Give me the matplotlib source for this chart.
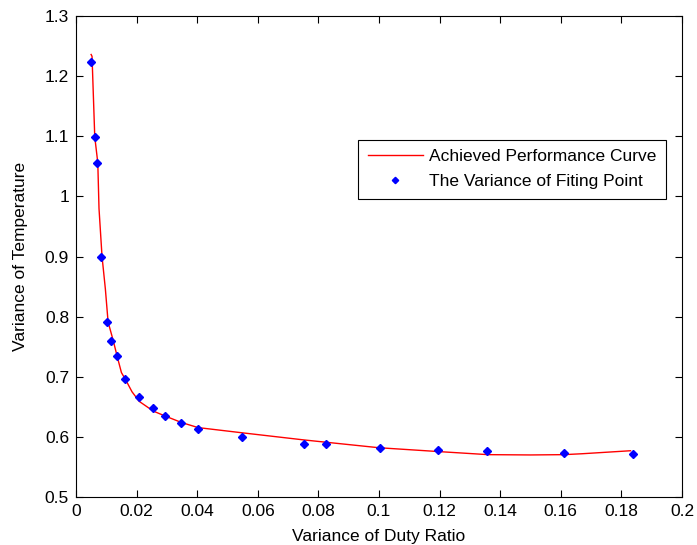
import numpy as np
import matplotlib.pyplot as pl
import matplotlib
matplotlib.rcParams.update({'font.size': 12.5, 'font.family': 'Liberation Sans'})

# fitted curve
curve_x = [0.0050, 0.0053, 0.0062, 0.0072, 0.0076, 0.0086, 0.0097, 0.0106, 0.0122, 0.0138,
           0.0150, 0.0165, 0.0185, 0.0209, 0.0255, 0.0293, 0.0348, 0.0403, 0.0549, 0.0752,
           0.100, 0.120, 0.136, 0.150, 0.161, 0.167, 0.183]
curve_y = [1.236, 1.233, 1.099, 1.056, 0.980, 0.900, 0.846, 0.791, 0.762, 0.730,
           0.707, 0.694, 0.675, 0.659, 0.643, 0.635, 0.624, 0.6155, 0.6068, 0.595,
           0.582, 0.5755, 0.5705, 0.570, 0.5705, 0.572, 0.577]

# fitting points
pts_x = [0.0050, 0.0063, 0.0070, 0.0084, 0.0102, 0.0117, 0.0135, 0.0163, 0.0209, 0.0255,
         0.0293, 0.0348, 0.0403, 0.0549, 0.0753, 0.0826, 0.1002, 0.1196, 0.1356, 0.1610, 0.1837]
pts_y = [1.224, 1.098, 1.056, 0.900, 0.791, 0.760, 0.735, 0.697, 0.667, 0.648,
         0.634, 0.623, 0.613, 0.600, 0.588, 0.588, 0.581, 0.579, 0.577, 0.574, 0.572]

fig = pl.figure(figsize=(6.97, 5.45), dpi=100)
ax = fig.add_axes([0.109, 0.088, 0.8695, 0.8826])

ax.plot(curve_x, curve_y, '-', color='red', lw=1.0, label='Achieved Performance Curve')
ax.plot(pts_x, pts_y, 'D', color='blue', ms=4.3, ls='none', label='The Variance of Fiting Point')

ax.set_xlim(0, 0.2)
ax.set_ylim(0.5, 1.3)
ax.set_xticks(np.arange(0, 0.201, 0.02))
ax.set_xticklabels(['0', '0.02', '0.04', '0.06', '0.08', '0.1', '0.12', '0.14', '0.16', '0.18', '0.2'])
ax.set_yticks(np.arange(0.5, 1.301, 0.1))
ax.set_yticklabels(['0.5', '0.6', '0.7', '0.8', '0.9', '1', '1.1', '1.2', '1.3'])
ax.tick_params(direction='in', top=True, right=True, length=5, width=0.8, pad=5)
for sp in ax.spines.values():
    sp.set_linewidth(0.8)

ax.set_xlabel('Variance of Duty Ratio', labelpad=7)
ax.set_ylabel('Variance of Temperature', labelpad=12)

leg = ax.legend(loc='upper right', bbox_to_anchor=(0.974, 0.743), fancybox=False,
                framealpha=1, edgecolor='black', borderpad=0.55, handlelength=3.2,
                handletextpad=0.35, labelspacing=0.55, borderaxespad=0,
                markerscale=0.75)
leg.get_frame().set_linewidth(0.8)

fig.savefig('out.png', dpi=100)
